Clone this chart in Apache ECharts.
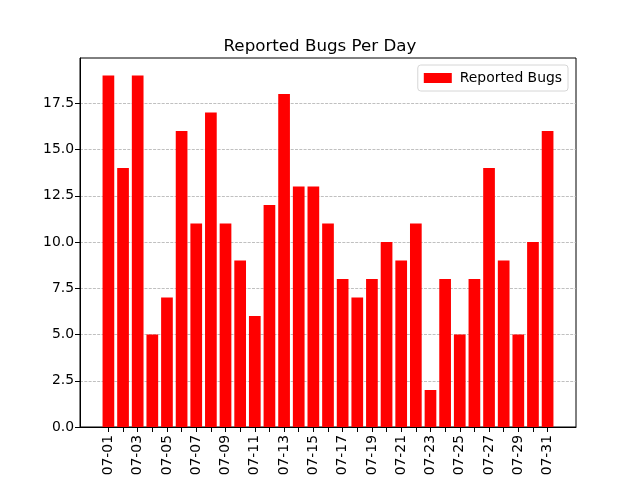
<!DOCTYPE html>
<html>
<head>
<meta charset="utf-8">
<script src="https://cdn.jsdelivr.net/npm/echarts@6/dist/echarts.min.js"></script>
<style>
  html, body { margin: 0; padding: 0; background: #fff; }
  #chart { width: 640px; height: 480px; }
</style>
</head>
<body>
<div id="chart"></div>
<script>
// Days of July
const days = [
  '07-01', '07-02', '07-03', '07-04', '07-05', '07-06', '07-07', '07-08',
  '07-09', '07-10', '07-11', '07-12', '07-13', '07-14', '07-15', '07-16',
  '07-17', '07-18', '07-19', '07-20', '07-21', '07-22', '07-23', '07-24',
  '07-25', '07-26', '07-27', '07-28', '07-29', '07-30', '07-31'
];
// Bug count per day
const bugs = [
  19, 14, 19, 5, 7, 16, 11, 17, 11, 9, 6, 12, 18, 13, 13, 11,
  8, 7, 8, 10, 9, 11, 2, 8, 5, 8, 14, 9, 5, 10, 16
];
const yTicks = [0, 2.5, 5, 7.5, 10, 12.5, 15, 17.5];

const FONT = 'DejaVu Sans';

// value x axis so the bar placement follows matplotlib's margins
const tickPos = days.map((d, i) => i);
const labelPos = tickPos.filter(i => i % 2 === 0);
const maxBug = Math.max.apply(null, bugs);

const chart = echarts.init(document.getElementById('chart'));
chart.setOption({
  animation: false,
  textStyle: { fontFamily: FONT },
  title: {
    text: 'Reported Bugs Per Day',
    left: 'center',
    top: 33,
    textStyle: { fontFamily: FONT, fontSize: 16.7, fontWeight: 'normal', color: '#000' }
  },
  legend: {
    right: 72,
    top: 65,
    itemWidth: 28,
    itemHeight: 10,
    itemGap: 8,
    padding: [6, 6, 6, 6],
    borderColor: '#d6d6d6',
    borderWidth: 1,
    borderRadius: 3,
    backgroundColor: 'rgba(255,255,255,0.8)',
    textStyle: { fontFamily: FONT, fontSize: 13.9, color: '#000', padding: [0, 0, 0, 3] },
    data: [{ name: 'Reported Bugs', icon: 'rect' }]
  },
  grid: {
    left: 80, right: 64, top: 58, bottom: 53,
    show: true, borderColor: '#000', borderWidth: 1, backgroundColor: 'transparent'
  },
  xAxis: {
    type: 'value',
    min: -1.94,
    max: days.length - 1 + 1.94,
    splitLine: { show: false },
    axisLine: { show: true, onZero: false, lineStyle: { color: '#000', width: 1 } },
    axisTick: {
      show: true, inside: false, length: 5,
      customValues: tickPos,
      lineStyle: { color: '#000', width: 1 }
    },
    axisLabel: {
      customValues: labelPos,
      rotate: 90,
      margin: 8,
      fontFamily: FONT,
      fontSize: 13.9,
      color: '#000',
      formatter: v => days[Math.round(v)] || ''
    }
  },
  yAxis: {
    type: 'value',
    min: 0,
    max: maxBug * 1.05,
    interval: 2.5,
    axisLine: { show: true, onZero: false, lineStyle: { color: '#000', width: 1 } },
    axisTick: {
      show: true, inside: false, length: 5,
      customValues: yTicks,
      lineStyle: { color: '#000', width: 1 }
    },
    axisLabel: {
      customValues: yTicks,
      margin: 6,
      fontFamily: FONT,
      fontSize: 13.9,
      color: '#000',
      formatter: v => v.toFixed(1)
    },
    splitLine: {
      show: true,
      lineStyle: { color: '#b0b0b0', width: 0.8, type: [3, 1.3] }
    }
  },
  series: [{
    name: 'Reported Bugs',
    type: 'bar',
    barWidth: 11.7,
    itemStyle: { color: '#ff0000' },
    data: bugs.map((v, i) => [i, v])
  }]
});
</script>
</body>
</html>
